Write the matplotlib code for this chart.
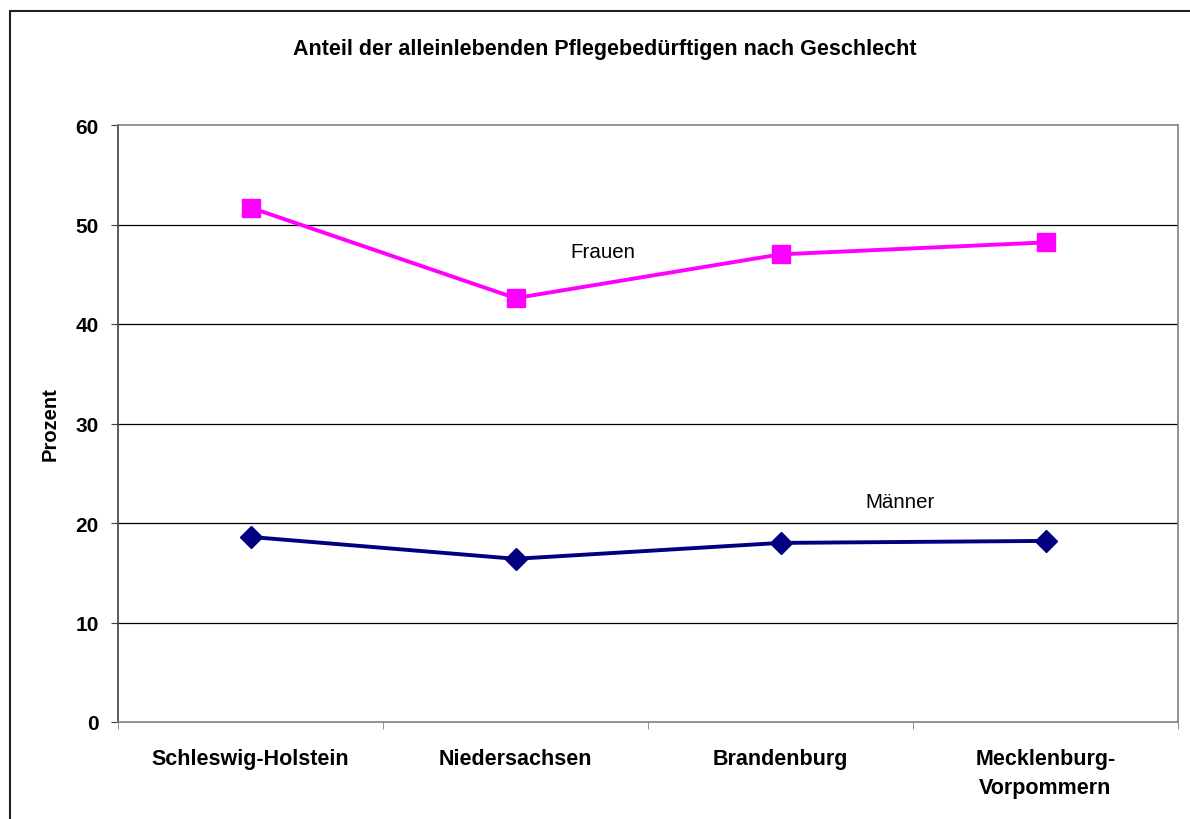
import matplotlib
matplotlib.use("Agg")
import matplotlib.pyplot as plt
from matplotlib.patches import Rectangle
import numpy as np

plt.rcParams['font.family'] = ['Liberation Sans', 'DejaVu Sans']

laender = ['Schleswig-Holstein', 'Niedersachsen', 'Brandenburg', 'Mecklenburg-\nVorpommern']
frauen = [51.7, 42.6, 47.0, 48.2]
maenner = [18.6, 16.4, 18.0, 18.2]

fig = plt.figure(figsize=(11.9, 8.2), dpi=100)
ax = fig.add_axes([118/1190, 1-723/820, 1060/1190, 597/820])

x = np.arange(len(laender))
ax.plot(x, frauen, '-', color='#FF00FF', lw=2.8, marker='s', ms=13.5, zorder=3)
ax.plot(x, maenner, '-', color='#000080', lw=2.8, marker='D', ms=11, zorder=3)

ax.set_xlim(-0.5, 3.5)
ax.set_ylim(0, 60)
ax.set_yticks(range(0, 61, 10))
ax.set_yticklabels([str(v) for v in range(0, 61, 10)], fontsize=15, fontweight='bold')
for v in range(10, 60, 10):
    ax.axhline(v, color='black', lw=0.9, zorder=1)

ax.set_xticks(x)
ax.set_xticklabels(laender, fontsize=15.5, fontweight='bold', linespacing=1.45)
ax.tick_params(axis='x', length=0, pad=19)
ax.set_xticks(np.arange(-0.5, 4.0, 1.0), minor=True)
ax.tick_params(axis='x', which='minor', length=5, color='#808080', direction='out')
ax.tick_params(axis='y', length=5, color='#404040', direction='out', pad=9)

ax.spines['left'].set_color('#404040')
ax.spines['bottom'].set_color('#808080')
ax.spines['top'].set_color('#808080')
ax.spines['right'].set_color('#808080')
for s in ax.spines.values():
    s.set_linewidth(1.2)

ax.set_ylabel('Prozent', fontsize=14.5, fontweight='bold')
ax.yaxis.set_label_coords(-0.055, 0.5)

ax.text(1.33, 47.3, 'Frauen', fontsize=14.8, ha='center', va='center')
ax.text(2.45, 22.2, 'Männer', fontsize=14.8, ha='center', va='center')

fig.text(605/1190, 1-49/820, 'Anteil der alleinlebenden Pflegebedürftigen nach Geschlecht',
         fontsize=15.5, fontweight='bold', ha='center', va='center')

fig.patches.append(Rectangle((10/1190, -0.05), 1.2, 1-12/820+0.05, transform=fig.transFigure,
                             fill=False, edgecolor='#202020', lw=1.5))

fig.savefig('out.png', dpi=100)
